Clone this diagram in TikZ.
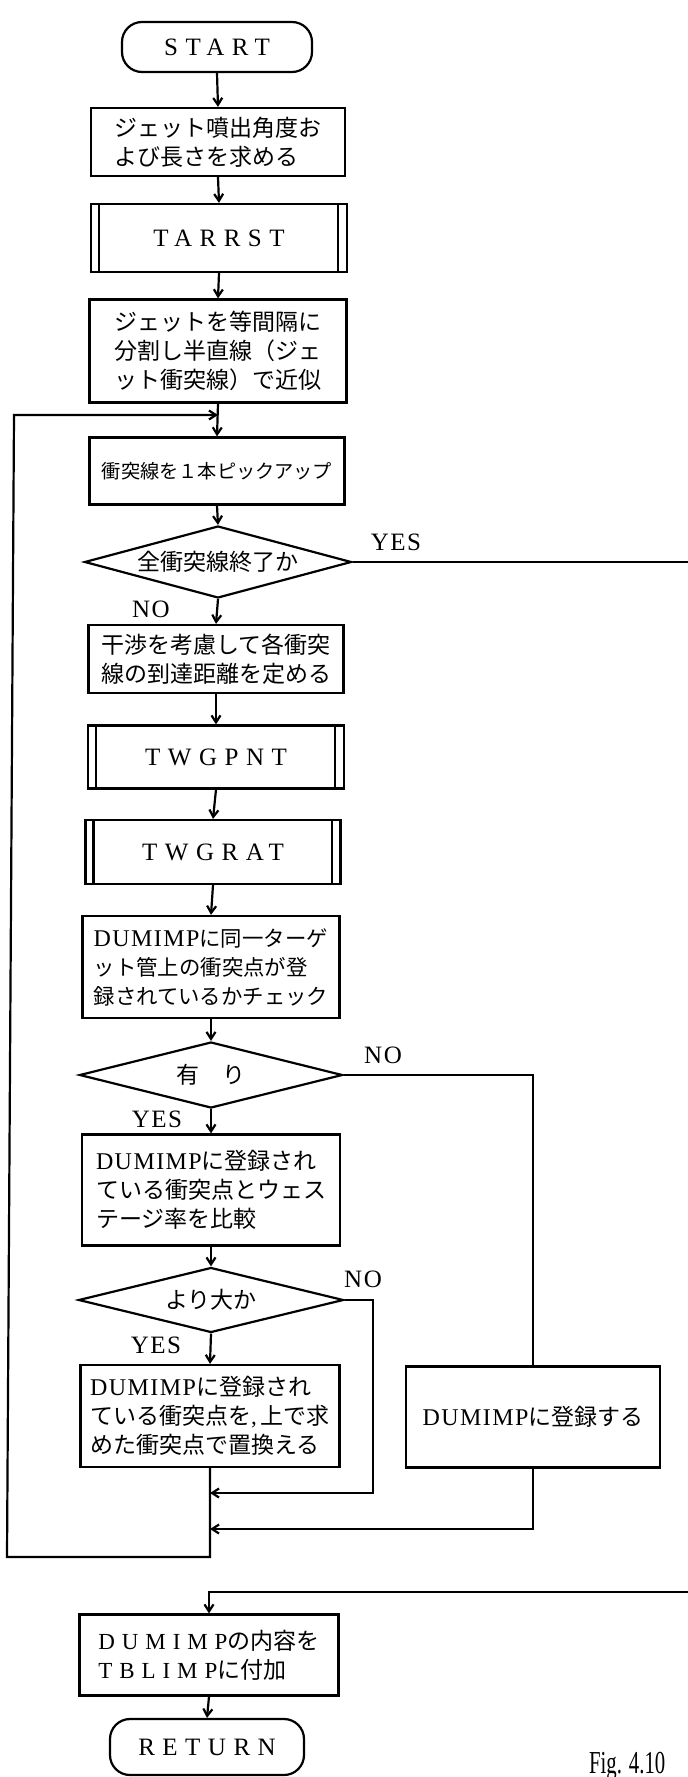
\documentclass[tikz,border=0pt]{standalone}
\usepackage{fontspec}
\usepackage{graphicx}
\setmainfont{Liberation Serif}
\newfontfamily\jp{Noto Sans CJK JP}
\newfontfamily\spc[LetterSpace=30]{Liberation Serif}
\newfontfamily\lbf[LetterSpace=6]{Liberation Serif}
\newfontfamily\dmf[LetterSpace=6]{Liberation Serif}
\newcommand\dm[1]{{\dmf\fontsize{12}{14.5}\selectfont #1}}
\usetikzlibrary{shapes.geometric,arrows.meta}
\begin{document}
\begin{tikzpicture}[x=0.5pt,y=-0.5pt,line width=1.1pt,
  >={Straight Barb[length=3.5pt,width=4.5pt]},
  box/.style={draw,rectangle,inner sep=0pt,align=left,font=\jp\fontsize{11.5}{14.5}\selectfont},
  term/.style={draw,rectangle,rounded corners=10pt,inner sep=0pt,font=\spc\fontsize{12.5}{14}\selectfont},
  proc/.style={draw,rectangle,inner sep=0pt,font=\spc\fontsize{12.5}{14}\selectfont},
  dec/.style={draw,diamond,aspect=3.7,inner sep=0pt,font=\jp\fontsize{11.5}{14}\selectfont},
  lbl/.style={font=\lbf\fontsize{12.5}{14}\selectfont,inner sep=0pt,anchor=base}]
\useasboundingbox (0,0) rectangle (688,1777);

\node[term,minimum width=95pt,minimum height=25pt] (start) at (217,47) {START};
\node[box,minimum width=127pt,minimum height=34pt] (b1) at (218,142) {ジェット噴出角度お\\よび長さを求める};
\node[proc,minimum width=128pt,minimum height=34pt] (tarrst) at (219,238) {TARRST};
\node[box,minimum width=128.5pt,minimum height=51.5pt] (b3) at (218,351) {ジェットを等間隔に\\分割し半直線（ジェ\\ット衝突線）で近似};
\node[box,minimum width=127.5pt,minimum height=33.5pt,font=\jp\fontsize{9.6}{12}\selectfont] (b4) at (217,471) {衝突線を１本ピックアップ};
\node[dec,minimum width=133.5pt,minimum height=36pt] (d1) at (218,562) {全衝突線終了か};
\node[box,minimum width=127.5pt,minimum height=34pt] (b5) at (216,659) {干渉を考慮して各衝突\\線の到達距離を定める};
\node[proc,minimum width=128pt,minimum height=31.5pt] (twgpnt) at (216,757) {TWGPNT};
\node[proc,minimum width=127.5pt,minimum height=32pt] (twgrat) at (213,852) {TWGRAT};
\node[box,minimum width=128.5pt,minimum height=51pt,font=\jp\fontsize{10.7}{14.5}\selectfont] (b6) at (211,967) {\dm{DUMIMP}に同一ターゲ\\ット管上の衝突点が登\\録されているかチェック};
\node[dec,minimum width=131.5pt,minimum height=33pt] (d2) at (211,1075) {有　り};
\node[box,minimum width=129pt,minimum height=55.5pt] (b7) at (211,1190) {\dm{DUMIMP}に登録され\\ている衝突点とウェス\\テージ率を比較};
\node[dec,minimum width=132.5pt,minimum height=32.5pt] (d3) at (211,1300) {より大か};
\node[box,minimum width=129.5pt,minimum height=51pt] (b8) at (210,1416) {\dm{DUMIMP}に登録され\\ている衝突点を{\rmfamily,}\,上で求\\めた衝突点で置換える};
\node[box,minimum width=127pt,minimum height=50.5pt] (b9) at (533,1417) {\dm{DUMIMP}に登録する};
\node[box,minimum width=129.5pt,minimum height=40.5pt] (b10) at (209,1655) {{\spc DUMIMP}の内容を\\{\spc TBLIMP}に付加};
\node[term,minimum width=97pt,minimum height=28pt] (ret) at (207,1747) {RETURN};

\foreach \n in {tarrst,twgpnt,twgrat}{
  \draw ([xshift=4.5pt]\n.north west) -- ([xshift=4.5pt]\n.south west)
        ([xshift=-5pt]\n.north east) -- ([xshift=-5pt]\n.south east);
}

\node[lbl] (yes1) at (396,550) {YES};
\node[lbl] (no1) at (151,617) {NO};
\node[lbl] (no2) at (383,1063) {NO};
\node[lbl] (yes2) at (157,1127) {YES};
\node[lbl] (no3) at (363,1287) {NO};
\node[lbl] (yes3) at (156,1353) {YES};
\node[anchor=base west,inner sep=0pt] (fig) at (588,1773) {\scalebox{0.65}[1]{\fontsize{16}{16}\selectfont Fig. 4.10}};

\draw[->] (start.south) -- (b1.north);
\draw[->] (b1.south) -- (tarrst.north);
\draw[->] (tarrst.south) -- (b3.north);
\draw[->] (b3.south) -- (b4.north);
\draw[->] (b4.south) -- (d1.north);
\draw[->] (d1.south) -- (b5.north);
\draw[->] (b5.south) -- (twgpnt.north);
\draw[->] (twgpnt.south) -- (twgrat.north);
\draw[->] (twgrat.south) -- (b6.north);
\draw[->] (b6.south) -- (d2.north);
\draw[->] (d2.south) -- (b7.north);
\draw[->] (b7.south) -- (d3.north);
\draw[->] (d3.south) -- (b8.north);
\draw[->] (b10.south) -- (ret.north);

\coordinate (yesend) at (688,562);
\draw (d1.east) -- (yesend);
\coordinate (retin) at (688,1592);
\draw[->] (retin) -- (retin -| b10.north) -- (b10.north);

\draw (d2.east) -- (d2.east -| b9.north) -- (b9.north);
\coordinate (n3) at (373,1493);
\draw[->] (d3.east) -- (d3.east -| n3) -- (n3) -- (n3 -| b8.south);
\coordinate (n2) at (533,1529);
\draw[->] (b9.south) -- (n2) -- (n2 -| b8.south);

\coordinate (lp) at (14,415);
\coordinate (lb) at (7,1557);
\draw[->] (b8.south) -- (b8.south |- lb) -- (lb) -- (lp) -- (lp -| b3.south);
\end{tikzpicture}
\end{document}
